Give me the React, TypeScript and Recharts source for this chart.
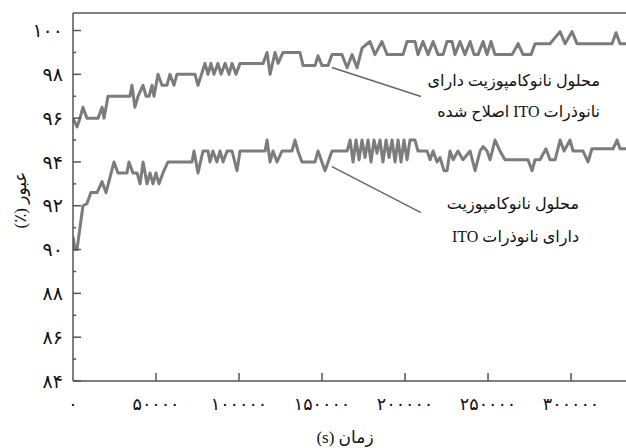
import React from 'react';
import {
  LineChart,
  Line,
  XAxis,
  YAxis,
  ReferenceLine,
} from 'recharts';

// نمونه اصلاح شده (بالا)
const upperTime = [
  0, 2400, 4200, 6000, 8400, 15100, 17500, 18700, 21100, 34300, 35500, 37300, 39200,
  42200, 44000, 45800, 47600, 48800, 51200, 53600, 56600, 58400, 60800, 62600, 73500,
  75300, 79500, 81300, 83100, 84900, 87300, 89200, 91600, 94000, 95800, 98200, 100600,
  114500, 116900, 118700, 121700, 123500, 126500, 136700, 138600, 145800, 147600, 150000,
  153600, 156000, 162000, 165100, 168100, 171100, 174100, 178900, 181900, 186100, 189200,
  198800, 201200, 206000, 207800, 210800, 213900, 216900, 219900, 222900, 225300, 228300,
  230100, 233100, 236100, 239200, 241600, 244000, 247000, 249400, 251800, 254200, 264500,
  268100, 271100, 275900, 278300, 287300, 293400, 296400, 300600, 303600, 324700, 327100,
  329500, 333100,
];
const upperValue = [
  96.0, 95.6, 96.0, 96.5, 96.0, 96.0, 96.5, 96.0, 97.0, 97.0, 97.5, 96.5, 97.0,
  97.5, 97.0, 97.0, 97.5, 97.0, 98.0, 97.5, 97.5, 98.0, 97.5, 98.0, 98.0,
  97.5, 98.5, 98.0, 98.5, 98.0, 98.5, 98.0, 98.5, 98.0, 98.5, 98.0, 98.5,
  98.5, 99.0, 98.0, 99.0, 98.5, 99.0, 99.0, 98.4, 98.4, 98.85, 98.4,
  98.4, 98.9, 98.9, 98.3, 98.9, 98.3, 99.2, 99.5, 98.9, 99.5, 98.9,
  98.9, 99.5, 99.5, 98.9, 99.5, 98.9, 99.5, 98.9, 98.9, 99.5, 99.5,
  98.9, 99.5, 98.9, 99.5, 98.9, 98.9, 99.5, 98.9, 99.5, 98.9, 98.9,
  99.4, 98.9, 98.9, 99.4, 99.4, 99.95, 99.4, 99.95, 99.4, 99.4, 99.9,
  99.4, 99.4,
];

// نمونه بدون اصلاح (پایین)
const lowerTime = [
  0, 1200, 2400, 6000, 8400, 10800, 14500, 17500, 19900, 24700, 27100, 32500, 33700,
  36100, 38600, 40400, 42200, 44600, 46400, 48200, 50000, 51800, 54200, 57200, 71700,
  72900, 75300, 78300, 81300, 82500, 84300, 86700, 88600, 90400, 92800, 95800, 98800,
  100600, 115700, 116900, 118700, 120500, 122900, 125900, 131900, 133700, 135500, 137900,
  145800, 147600, 151800, 156000, 165100, 166900, 168700, 170500, 172300, 174100, 175900,
  177700, 179500, 181300, 183100, 184900, 186700, 188600, 190400, 192200, 194000, 195800,
  197600, 199400, 201200, 203000, 206000, 207800, 213300, 215100, 216900, 219300, 221100,
  223500, 225300, 227100, 229000, 231900, 234900, 239200, 242200, 245200, 247000, 249400,
  251200, 254200, 257200, 260200, 274100, 276500, 278300, 281300, 284900, 287300, 290400,
  293400, 295800, 299400, 301200, 307200, 310200, 312600, 325300, 327700, 329500, 333100,
];
const lowerValue = [
  90.6, 90.0, 90.0, 92.0, 92.1, 92.6, 92.6, 93.1, 92.6, 94.0, 93.5, 93.5, 94.0,
  93.5, 93.5, 93.0, 94.0, 93.0, 93.5, 93.0, 93.5, 93.0, 93.5, 94.0, 94.0,
  94.5, 93.5, 94.5, 94.5, 94.0, 94.5, 94.0, 94.5, 94.0, 94.5, 94.5, 93.6,
  94.5, 94.5, 95.0, 94.0, 94.5, 94.0, 94.5, 94.5, 95.0, 94.5, 94.0,
  94.0, 94.5, 93.6, 94.5, 94.5, 95.0, 94.0, 95.0, 94.1, 95.0, 94.2,
  95.0, 94.0, 95.0, 94.4, 95.0, 94.0, 95.0, 94.2, 95.0, 94.0, 95.0,
  94.0, 95.0, 94.1, 95.0, 95.0, 94.5, 94.5, 94.1, 94.5, 94.0, 94.2,
  93.6, 93.6, 94.5, 94.1, 94.5, 94.1, 94.5, 93.6, 94.5, 94.7, 94.5,
  94.1, 95.0, 94.5, 94.1, 94.1, 93.6, 94.1, 94.1, 94.6, 94.1, 94.1,
  95.0, 94.5, 95.0, 94.5, 94.5, 94.0, 94.6, 94.6, 95.0, 94.6, 94.6,
];

const xTicks = [0, 50000, 100000, 150000, 200000, 250000, 300000];
const yTicks = [84, 85, 86, 87, 88, 89, 90, 91, 92, 93, 94, 95, 96, 97, 98, 99, 100];

const upperData = upperTime.map((t, i) => ({ t, v: upperValue[i] }));
const lowerData = lowerTime.map((t, i) => ({ t, v: lowerValue[i] }));

const FONT = "'Liberation Serif', 'DejaVu Sans', serif";
const AXIS = '#555';
const SERIES = '#7c7c7c';

// ارقام فارسی
const toFa = (n: number) => String(n).replace(/\d/g, (d) => '۰۱۲۳۴۵۶۷۸۹'[Number(d)]);

const YTick = ({ x, y, payload }: any) => {
  const major = payload.value % 2 === 0;
  return (
    <g>
      <line x1={x} x2={x + (major ? 8 : 3)} y1={y} y2={y} stroke={AXIS} strokeWidth={1.5} />
      {major && (
        <text x={x - 10} y={y} dy="0.35em" textAnchor="end" fontSize={19} fill="#111" fontFamily={FONT}>
          {toFa(payload.value)}
        </text>
      )}
    </g>
  );
};

const XTick = ({ x, y, payload }: any) => (
  <g>
    {payload.value !== 0 && (
      <line x1={x} x2={x} y1={y} y2={y - 8} stroke={AXIS} strokeWidth={1.5} />
    )}
    <text x={x} y={y + 23} dy="0.35em" textAnchor="middle" fontSize={17.5} fill="#111" fontFamily={FONT}>
      {toFa(payload.value)}
    </text>
  </g>
);

export default function App() {
  const txt = { fontFamily: FONT, fill: '#111', direction: 'rtl' as const };
  return (
    <div style={{ position: 'absolute', left: 0, top: 0, width: 626, height: 448, background: '#fff' }}>
      <LineChart
        width={626}
        height={448}
        margin={{ top: 13, right: 0, left: 0, bottom: 0 }}
      >
        <XAxis
          dataKey="t"
          type="number"
          domain={[0, 333100]}
          ticks={xTicks}
          height={67}
          tickSize={0}
          tickMargin={0}
          tickLine={false}
          axisLine={{ stroke: AXIS, strokeWidth: 1.5 }}
          tick={<XTick />}
          allowDataOverflow
        />
        <YAxis
          type="number"
          domain={[84, 100.8]}
          ticks={yTicks}
          width={73}
          tickSize={0}
          tickMargin={0}
          tickLine={false}
          interval={0}
          axisLine={{ stroke: AXIS, strokeWidth: 1.5 }}
          tick={<YTick />}
          allowDataOverflow
        />
        <ReferenceLine y={100.8} stroke={AXIS} strokeWidth={1.5} />
        <ReferenceLine
          segment={[{ x: 156000, y: 98.31 }, { x: 209600, y: 96.99 }]}
          stroke="#666"
          strokeWidth={1.5}
        />
        <ReferenceLine
          segment={[{ x: 156000, y: 93.79 }, { x: 209600, y: 91.69 }]}
          stroke="#666"
          strokeWidth={1.5}
        />
        <Line
          data={upperData}
          dataKey="v"
          type="linear"
          stroke={SERIES}
          strokeWidth={3}
          strokeLinejoin="round"
          dot={false}
          isAnimationActive={false}
        />
        <Line
          data={lowerData}
          dataKey="v"
          type="linear"
          stroke={SERIES}
          strokeWidth={3}
          strokeLinejoin="round"
          dot={false}
          isAnimationActive={false}
        />
      </LineChart>
      <svg
        width={626}
        height={448}
        style={{ position: 'absolute', left: 0, top: 0, pointerEvents: 'none' }}
      >
        <text x={600} y={80} dy="0.35em" textAnchor="start" fontSize={16} style={txt}>
          محلول نانوکامپوزیت دارای
        </text>
        <text x={600} y={111} dy="0.35em" textAnchor="start" fontSize={16} style={txt}>
          نانوذرات ITO اصلاح شده
        </text>
        <text x={579} y={203} dy="0.35em" textAnchor="start" fontSize={16} style={txt}>
          محلول نانوکامپوزیت
        </text>
        <text x={579} y={236} dy="0.35em" textAnchor="start" fontSize={16} style={txt}>
          دارای نانوذرات ITO
        </text>
        <text x={345} y={437} dy="0.35em" textAnchor="middle" fontSize={17} style={txt}>
          زمان (s)
        </text>
        <text
          x={20}
          y={200}
          dy="0.35em"
          textAnchor="middle"
          fontSize={17}
          style={txt}
          transform="rotate(-90 20 200)"
        >
          عبور (٪)
        </text>
      </svg>
    </div>
  );
}
